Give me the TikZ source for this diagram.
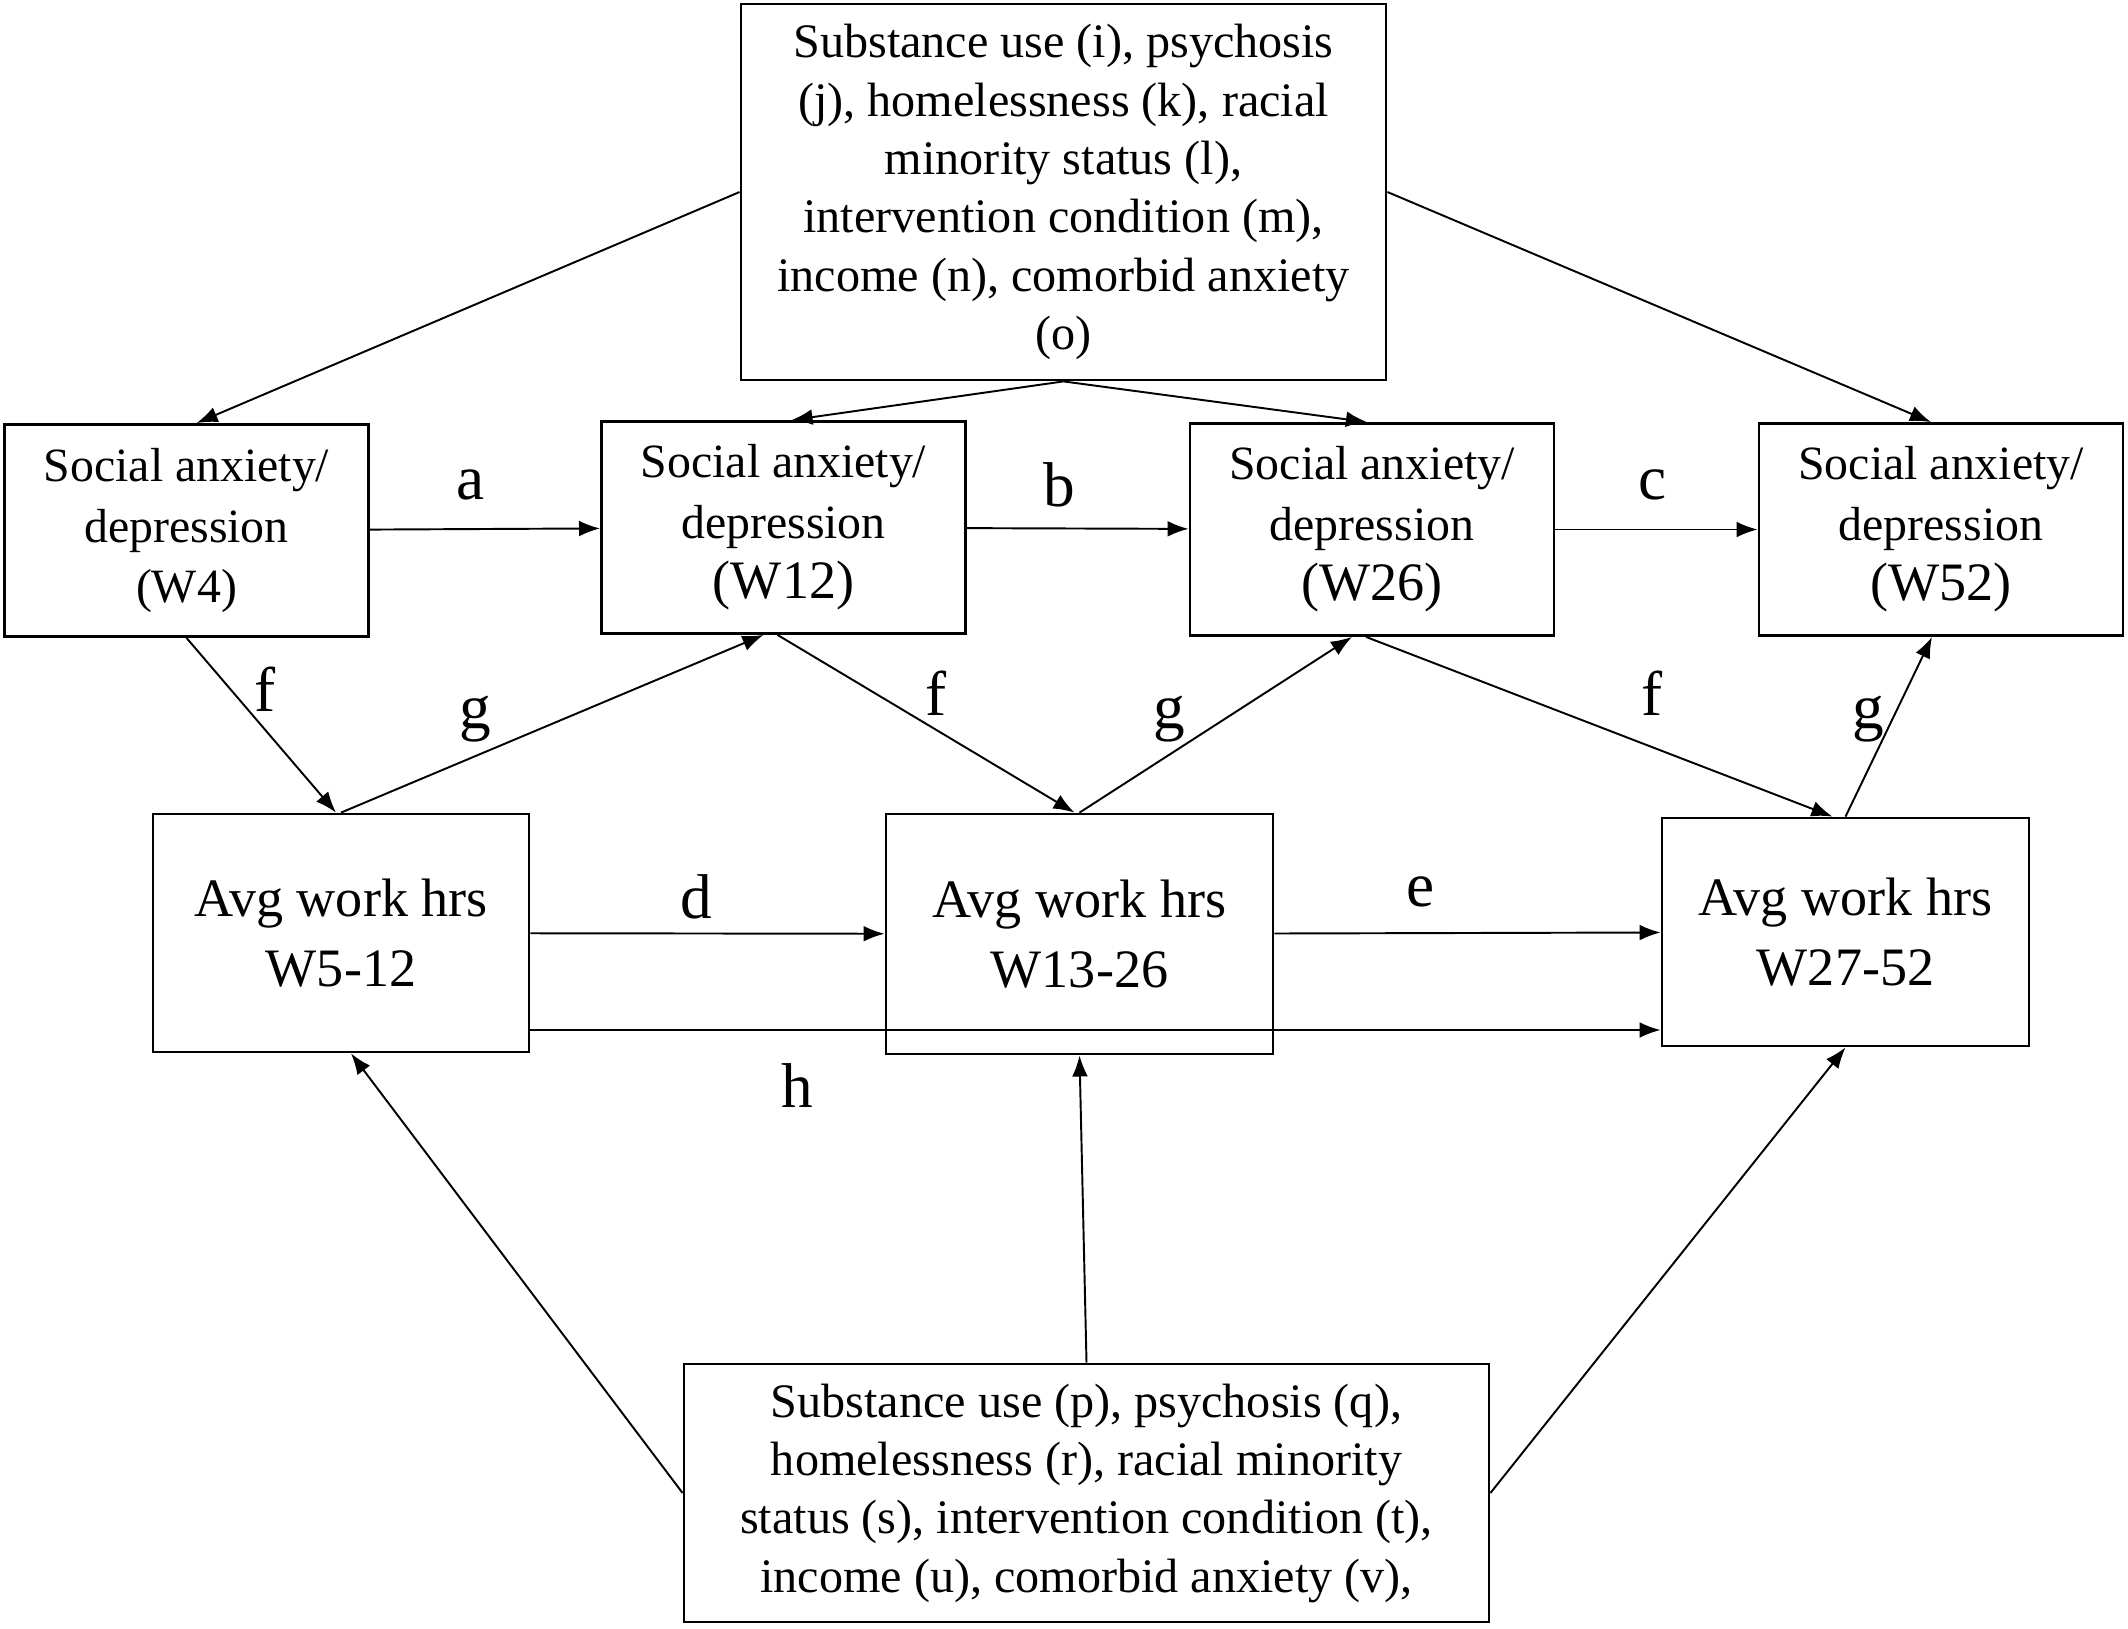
\documentclass[tikz,border=0pt]{standalone}
\usepackage{fontspec}
\setmainfont{Liberation Serif}
\usetikzlibrary{positioning,arrows.meta}

\begin{document}
\begin{tikzpicture}[
    box/.style={draw, line width=0.8pt, align=center, inner sep=0pt},
    covbox/.style={box, font=\fontsize{13.7}{16.6}\selectfont},
    sadbox/.style={box, minimum width=3.64cm, minimum height=2.12cm,
      font=\fontsize{13.6}{17.2}\selectfont},
    hrsbox/.style={box, font=\fontsize{15.4}{19.8}\selectfont},
    lbl/.style={font=\fontsize{18}{18}\selectfont, inner sep=0pt},
    arr/.style={-{Latex[length=6pt,width=4.5pt]}, line width=0.55pt}]
  \useasboundingbox (0,0) rectangle (21.28,-16.28);
  % covariates
  \node[covbox, minimum width=6.45cm, minimum height=3.76cm] (cov1) at (10.635,-1.92)
    {Substance use (i), psychosis\\ (j), homelessness (k), racial\\ minority status (l),\\
     intervention condition (m),\\ income (n), comorbid anxiety\\ (o)};
  \node[covbox, minimum width=8.05cm, minimum height=2.58cm] (cov2) at (10.865,-14.93)
    {Substance use (p), psychosis (q),\\ homelessness (r), racial minority\\
     status (s), intervention condition (t),\\ income (u), comorbid anxiety (v),};
  % social anxiety / depression
  \node[sadbox] (sad1) at (1.865,-5.305) {Social anxiety/\\ depression\\ (W4)};
  \node[sadbox] (sad2) at (7.835,-5.275)
    {Social anxiety/\\ depression\\ {\fontsize{15.4}{17.2}\selectfont (W12)}};
  \node[sadbox] (sad3) at (13.72,-5.295)
    {Social anxiety/\\ depression\\ {\fontsize{15.4}{17.2}\selectfont (W26)}};
  \node[sadbox] (sad4) at (19.41,-5.295)
    {Social anxiety/\\ depression\\ {\fontsize{15.4}{17.2}\selectfont (W52)}};
  % work hours
  \node[hrsbox, minimum width=3.76cm, minimum height=2.38cm] (hrs1) at (3.41,-9.33)
    {Avg work hrs\\ W5-12};
  \node[hrsbox, minimum width=3.87cm, minimum height=2.40cm] (hrs2) at (10.795,-9.34)
    {Avg work hrs\\ W13-26};
  \node[hrsbox, minimum width=3.67cm, minimum height=2.28cm] (hrs3) at (18.455,-9.32)
    {Avg work hrs\\ W27-52};

  \draw[arr] (cov1.west) -- ([xshift=0.1cm]sad1.north);
  \draw[arr] (cov1.south) -- ([xshift=0.08cm]sad2.north);
  \draw[arr] (cov1.south) -- ([xshift=-0.05cm]sad3.north);
  \draw[arr] (cov1.east) -- ([xshift=-0.1cm]sad4.north);

  \draw[arr] (sad1) -- (sad2);
  \draw[arr] (sad2) -- (sad3);
  \draw[arr] (sad3) -- (sad4);

  \draw[arr] (sad1.south) -- ([xshift=-0.05cm]hrs1.north);
  \draw[arr] (hrs1.north) -- ([xshift=-0.2cm]sad2.south);
  \draw[arr] ([xshift=-0.06cm]sad2.south) -- ([xshift=-0.05cm]hrs2.north);
  \draw[arr] (hrs2.north) -- ([xshift=-0.2cm]sad3.south);
  \draw[arr] ([xshift=-0.06cm]sad3.south) -- ([xshift=-0.13cm]hrs3.north);
  \draw[arr] (hrs3.north) -- ([xshift=-0.09cm]sad4.south);

  \draw[arr] (hrs1) -- (hrs2);
  \draw[arr] (hrs2) -- (hrs3);
  \draw[arr] ([yshift=-0.97cm]hrs1.east) -- ([yshift=-0.97cm]hrs1.east -| hrs3.west);

  \draw[arr] (cov2.west) -- ([xshift=0.1cm]hrs1.south);
  \draw[arr] (cov2.north) -- (hrs2.south);
  \draw[arr] (cov2.east) -- (hrs3.south);

  % path labels
  \node[lbl] (lbl-a) at (4.71,-4.85) {a};
  \node[lbl] (lbl-b) at (10.59,-4.85) {b};
  \node[lbl] (lbl-c) at (16.53,-4.85) {c};
  \node[lbl] (lbl-f1) at (2.65,-6.89) {f};
  \node[lbl] (lbl-g1) at (4.75,-7.19) {g};
  \node[lbl] (lbl-f2) at (9.36,-6.93) {f};
  \node[lbl] (lbl-g2) at (11.69,-7.19) {g};
  \node[lbl] (lbl-f3) at (16.52,-6.93) {f};
  \node[lbl] (lbl-g3) at (18.68,-7.19) {g};
  \node[lbl] (lbl-d) at (6.96,-8.97) {d};
  \node[lbl] (lbl-e) at (14.21,-8.92) {e};
  \node[lbl] (lbl-h) at (7.97,-10.86) {h};
\end{tikzpicture}
\end{document}
